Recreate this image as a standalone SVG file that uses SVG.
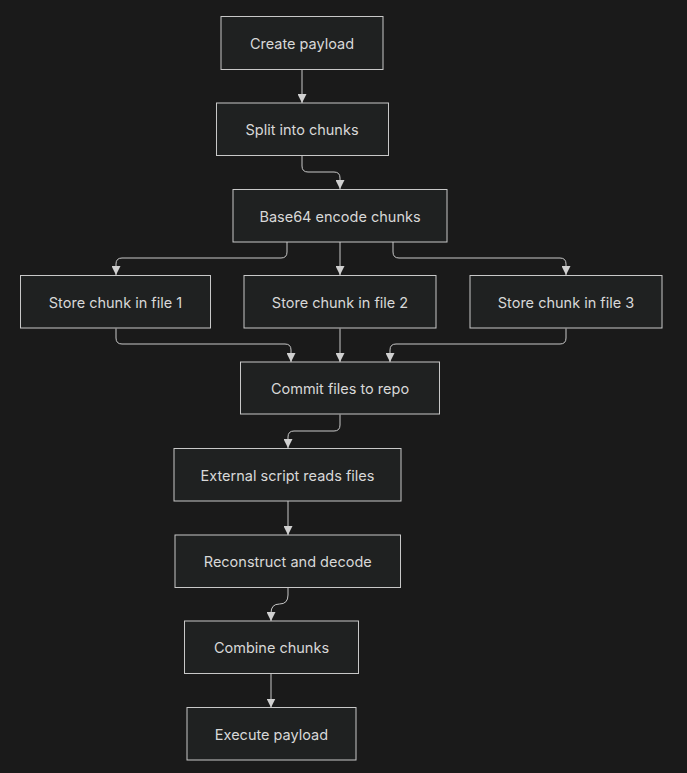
<svg xmlns="http://www.w3.org/2000/svg" width="687" height="773" viewBox="0 0 687 773">
<defs>
<style>
.node rect{fill:#1f2121;stroke:#c8c8c8;stroke-width:1}
.node text{fill:#d8d8d8;font-family:Inter,"Open Sans","Noto Sans",sans-serif;font-size:14.5px;text-anchor:middle;dominant-baseline:central}
.edges path{fill:none;stroke:#c8c8c8;stroke-width:1;marker-end:url(#arr)}
</style>
<marker id="arr" viewBox="0 0 10 10" refX="10" refY="5" markerWidth="9" markerHeight="9" markerUnits="userSpaceOnUse" orient="auto">
<path d="M0,0 L10,5 L0,10 z" fill="#d0d0d0"/>
</marker>
</defs>
<rect width="687" height="773" fill="#1a1a1a"/>
<g class="edges">
<path d="M302,69.5 V103"/>
<path d="M302,156 V166 Q302,172 308,172 H334 Q340,172 340,178 V189"/>
<path d="M287,242 V252 Q287,258 281,258 H122 Q116,258 116,264 V275"/>
<path d="M340,242 V275"/>
<path d="M393,242 V252 Q393,258 399,258 H560 Q566,258 566,264 V275"/>
<path d="M116,328.5 V338 Q116,344 122,344 H285 Q291,344 291,350 V362"/>
<path d="M340,328.5 V362"/>
<path d="M566,328.5 V338 Q566,344 560,344 H396 Q390,344 390,350 V362"/>
<path d="M340,414.5 V425 Q340,431 334,431 H294 Q288,431 288,437 V448"/>
<path d="M288,501 V535"/>
<path d="M288,587.5 V595 Q288,604 279.5,604 Q271,604 271,613 V621"/>
<path d="M271,673.5 V707.5"/>
</g>
<g id="n1" class="node"><rect x="221" y="16.5" width="162" height="53"/><text x="302" y="43">Create payload</text></g>
<g id="n2" class="node"><rect x="216.5" y="103" width="172" height="52.5"/><text x="302" y="129.5">Split into chunks</text></g>
<g id="n3" class="node"><rect x="233" y="189.5" width="214" height="52.5"/><text x="340" y="216">Base64 encode chunks</text></g>
<g id="n4" class="node"><rect x="20.5" y="275.5" width="190" height="52.5"/><text x="115.5" y="302">Store chunk in file 1</text></g>
<g id="n5" class="node"><rect x="244" y="275.5" width="192" height="52.5"/><text x="340" y="302">Store chunk in file 2</text></g>
<g id="n6" class="node"><rect x="470" y="275.5" width="192" height="52.5"/><text x="566" y="302">Store chunk in file 3</text></g>
<g id="n7" class="node"><rect x="240.5" y="362" width="199" height="52"/><text x="340" y="388">Commit files to repo</text></g>
<g id="n8" class="node"><rect x="174" y="448.5" width="227" height="52.5"/><text x="287.5" y="475">External script reads files</text></g>
<g id="n9" class="node"><rect x="175" y="535" width="225.5" height="52.5"/><text x="287.75" y="561">Reconstruct and decode</text></g>
<g id="n10" class="node"><rect x="184.5" y="621" width="174" height="52.5"/><text x="271.5" y="647">Combine chunks</text></g>
<g id="n11" class="node"><rect x="187" y="707.5" width="169" height="52.5"/><text x="271.5" y="734">Execute payload</text></g>
</svg>
